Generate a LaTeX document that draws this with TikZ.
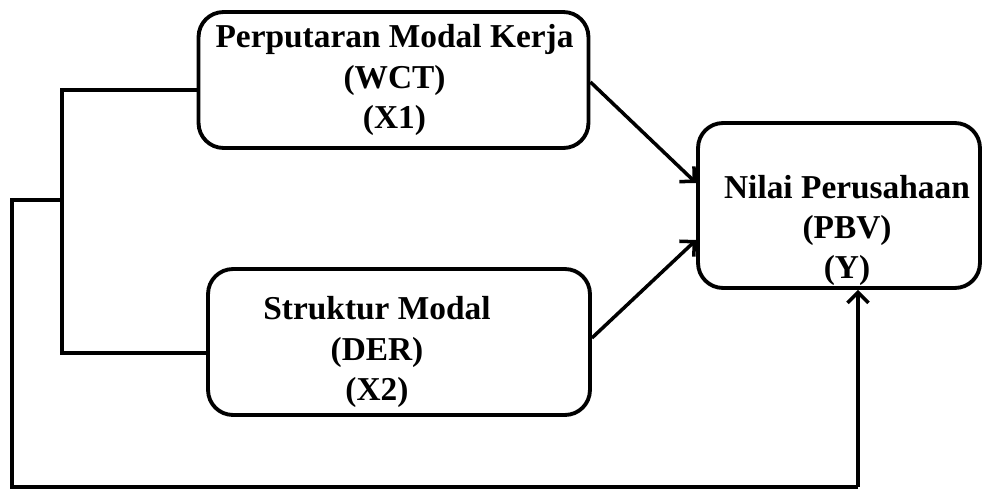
\documentclass[tikz,border=0pt]{standalone}
\usepackage{fontspec}
\setmainfont{Liberation Serif}
\usetikzlibrary{arrows.meta}
\tikzset{every node/.style={align=center}}
\tikzset{
  varbox/.style={draw, line width=2.2pt, rounded corners=0.5cm, inner sep=0pt},
  vartext/.style={font=\fontsize{19}{23}\selectfont\bfseries},
  link/.style={line width=2.2pt},
  arr/.style={line width=2pt, -{Straight Barb[length=6pt,width=12pt,line width=2pt]}}
}

\begin{document}
\begin{tikzpicture}[x=0.02cm,y=-0.02cm]
        \useasboundingbox (0,0) rectangle (985,490);

        % variable boxes
        \node[varbox, minimum width=7.8cm, minimum height=2.72cm,
            label={[vartext, xshift=0.02cm]center:Perputaran Modal Kerja\\(WCT)\\(X1)}]
            (wct) at (393.5,80) {};
        \node[varbox, minimum width=7.64cm, minimum height=2.92cm,
            label={[vartext, xshift=-0.44cm, yshift=-0.2cm]center:Struktur Modal\\(DER)\\(X2)}]
            (der) at (399,342) {};
        \node[varbox, minimum width=5.64cm, minimum height=3.3cm,
            label={[vartext, xshift=0.16cm, yshift=-0.5cm]center:Nilai Perusahaan\\(PBV)\\(Y)}]
            (pbv) at (839,205.5) {};

        % X1 and X2 joined on the left
        \draw[link] (wct.west |- 0,90) -| (62,353) -- (der.west |- 0,353);

        % X1, X2 to Y
        \draw[arr] (wct.east |- 0,82) -- (pbv.west |- 0,183);
        \draw[arr] (der.east |- 0,338) -- (pbv.west |- 0,240);

        % joint path round the bottom to Y
        \coordinate (jn) at (62,200);
        \coordinate (fb) at (858,487);
        \draw[link] (jn) -- (12,200) |- (fb);
        \draw[arr] (fb) -- (fb |- pbv.south);
\end{tikzpicture}
\end{document}
